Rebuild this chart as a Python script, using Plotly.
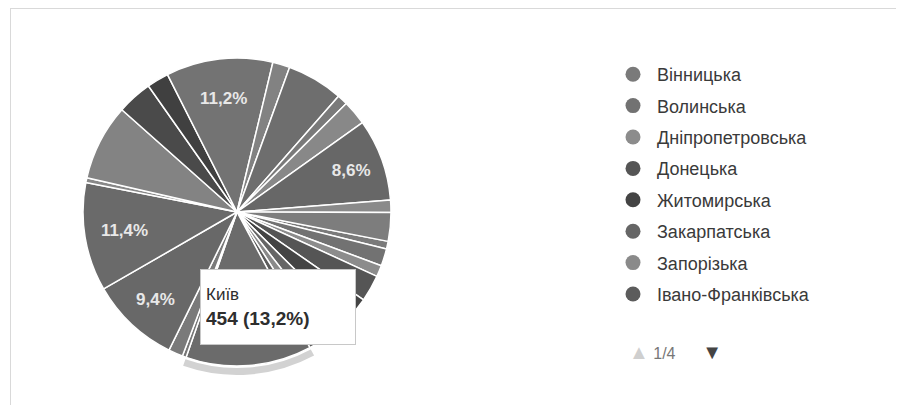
import plotly.graph_objects as go

# ---- data ----
regions = ["Вінницька", "Волинська", "Дніпропетровська", "Донецька", "Житомирська",
           "Закарпатська", "Запорізька", "Івано-Франківська", "Київ", "Київська",
           "Кіровоградська", "Луганська", "Львівська", "Миколаївська", "Одеська",
           "Полтавська", "Рівненська", "Сумська", "Тернопільська", "Харківська",
           "Херсонська", "Хмельницька", "Черкаська", "Чернівецька", "Чернігівська"]
counts = [28, 62, 41, 96, 96, 69, 52, 41, 454, 14, 52, 323, 392, 17, 275,
          127, 79, 385, 62, 203, 38, 89, 296, 45, 103]
colors = ["#7a7a7a", "#727272", "#8c8c8c", "#555555", "#444444", "#666666", "#8a8a8a",
          "#5c5c5c", "#6b6b6b", "#777777", "#7a7a7a", "#686868", "#6a6a6a", "#888888",
          "#838383", "#4a4a4a", "#404040", "#737373", "#828282", "#6e6e6e", "#7a7a7a",
          "#888888", "#676767", "#8a8a8a", "#7d7d7d"]
labelled = ["Луганська", "Львівська", "Сумська", "Черкаська"]
highlight = "Київ"
legend_page = regions[:8]
page_text = "1/4"

total = sum(counts)
W, H = 904, 405
OFF = 8  # page body margin offset
cx, cy, R = 237 - OFF, 212 - OFF, 154
FONT = "Liberation Sans, Arial, sans-serif"

def px(x):
    return (x - OFF) / W

def py(y):
    return 1 - (y - OFF) / H

def dom(r):
    return dict(x=[(cx - r) / W, (cx + r) / W], y=[(H - cy - r) / H, (H - cy + r) / H])

fig = go.Figure()

# highlight ring behind the hovered slice
ring_colors = ["#d2d2d2" if n == highlight else "rgba(0,0,0,0)" for n in regions]
fig.add_trace(go.Pie(labels=regions, values=counts, sort=False, direction="clockwise",
                     rotation=101, domain=dom(R + 9), hole=(R + 2) / (R + 9),
                     marker=dict(colors=ring_colors, line=dict(width=0)),
                     textinfo="none", hoverinfo="skip", showlegend=False))

fig.add_trace(go.Pie(labels=regions, values=counts, sort=False, direction="clockwise",
                     rotation=101, domain=dom(R),
                     marker=dict(colors=colors, line=dict(color="white", width=1.5)),
                     texttemplate=["<b>%{percent:.1%}</b>" if n in labelled else "" for n in regions],
                     textposition="inside", insidetextorientation="horizontal",
                     textfont=dict(family=FONT, size=17, color="#e8e8e8"),
                     showlegend=False))

# legend entries (page 1 of 4)
for n in legend_page:
    fig.add_trace(go.Scatter(x=[None], y=[None], mode="markers", name=n,
                             legendgroup=n,
                             marker=dict(size=15, color=colors[regions.index(n)])))

v = counts[regions.index(highlight)]
pct = f"{v / total * 100:.1f}".replace(".", ",")
fig.add_annotation(x=px(200), y=py(269), xref="paper", yref="paper",
                   xanchor="left", yanchor="top", showarrow=False, align="left",
                   text=f"<span style='font-size:17px'>{highlight}</span><br>"
                        f"<b>{v} ({pct}%)</b>",
                   font=dict(family=FONT, size=19, color="#2e2e2e"),
                   bgcolor="white", bordercolor="#c8c8c8", borderwidth=1,
                   width=144, height=64, borderpad=5)

fig.add_annotation(x=px(627), y=py(352), xref="paper", yref="paper",
                   xanchor="left", yanchor="middle", showarrow=False,
                   text=f"<span style='color:#cfcfcf;font-size:20px'>▲</span> "
                        f"<span style='color:#777777'>{page_text}</span>&nbsp;&nbsp;&nbsp;&nbsp;&nbsp;&nbsp;"
                        f"<span style='color:#444444;font-size:20px'>▼</span>",
                   font=dict(family=FONT, size=16, color="#777777"))

# frame lines
fig.add_shape(type="line", xref="paper", yref="paper", x0=px(10), x1=px(904),
              y0=py(8.5), y1=py(8.5), line=dict(color="#d9d9d9", width=1))
fig.add_shape(type="line", xref="paper", yref="paper", x0=px(10.5), x1=px(10.5),
              y0=0, y1=py(8.5), line=dict(color="#d9d9d9", width=1))

fig.update_layout(
    width=W, height=H, margin=dict(l=0, r=0, t=0, b=0),
    paper_bgcolor="white", plot_bgcolor="white", separators=", ",
    xaxis=dict(visible=False), yaxis=dict(visible=False),
    legend=dict(x=px(609), y=py(56), xanchor="left", yanchor="top",
                font=dict(family=FONT, size=18, color="#3a3a3a"),
                traceorder="grouped", tracegroupgap=5, itemwidth=38,
                bgcolor="rgba(0,0,0,0)"),
    showlegend=True,
)

fig.write_html("out.html")
